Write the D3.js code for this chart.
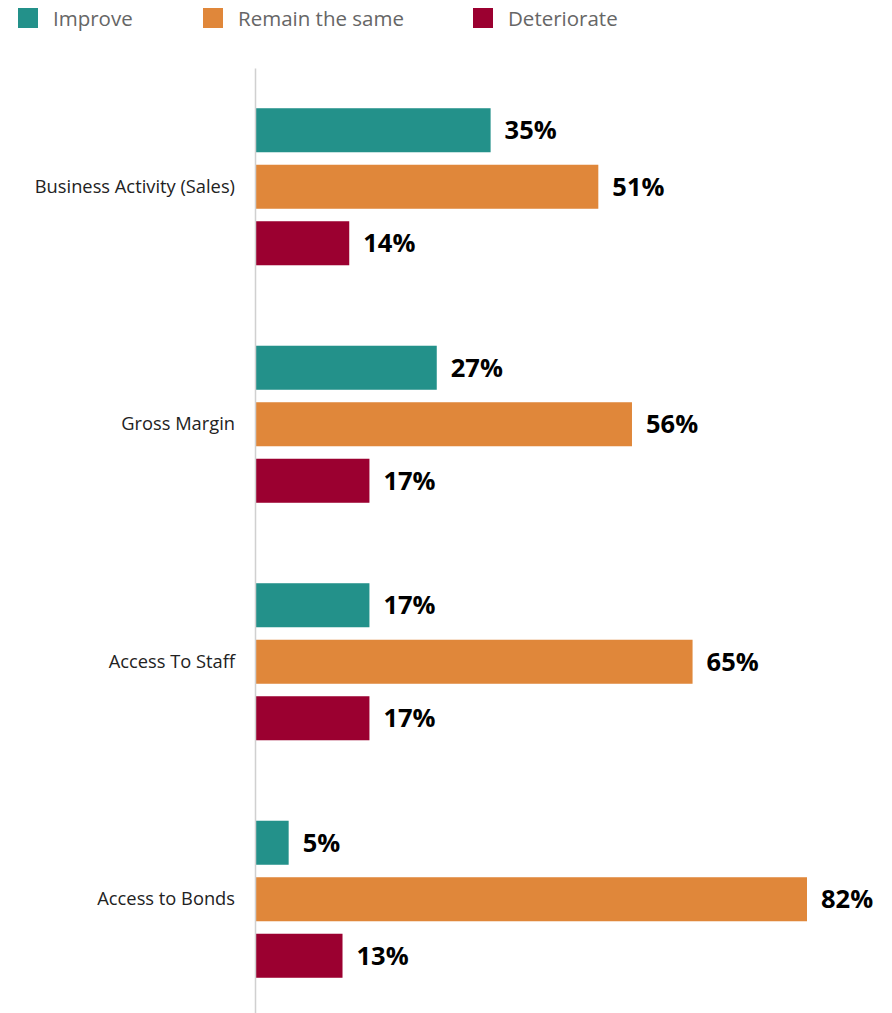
<!DOCTYPE html>
<html>
<head>
<meta charset="utf-8">
<script src="https://cdn.jsdelivr.net/npm/d3@7"></script>
<style>
  html, body { margin: 0; padding: 0; background: #fff; }
  svg { display: block; }
</style>
</head>
<body>
<div id="chart"></div>
<script>
// Survey outlook by business dimension (% of respondents)
const categories = ["Business Activity (Sales)", "Gross Margin", "Access To Staff", "Access to Bonds"];
const seriesNames = ["Improve", "Remain the same", "Deteriorate"];
const improve = [35, 27, 17, 5];
const remainSame = [51, 56, 65, 82];
const deteriorate = [14, 17, 17, 13];
const seriesColors = ["#23918a", "#e0873a", "#9b0030"];

const width = 892, height = 1013;
const svg = d3.select("#chart").append("svg")
  .attr("width", width).attr("height", height);

const rows = categories.map((c, i) => ({
  category: c,
  values: [improve[i], remainSame[i], deteriorate[i]]
}));

const x = d3.scaleLinear().domain([0, 82]).range([255, 807]);
const y0 = d3.scaleBand().domain(categories).range([68, 1018]).padding(0);
const y1 = d3.scaleBand().domain(seriesNames).range([0, y0.bandwidth()])
  .paddingInner(0.221).paddingOuter(0.712);
const color = d3.scaleOrdinal().domain(seriesNames).range(seriesColors);

// Legend
const legendX = [18, 203, 473];
const legend = svg.append("g");
seriesNames.forEach((s, i) => {
  const g = legend.append("g").attr("transform", `translate(${legendX[i]},8)`);
  g.append("rect").attr("width", 20).attr("height", 20).attr("fill", color(s));
  g.append("text").attr("x", 35).attr("y", 18)
    .attr("font-family", "Open Sans, sans-serif").attr("font-size", 20.5)
    .attr("fill", "#666").text(s);
});

// Bars
const groups = svg.append("g").selectAll("g").data(rows).join("g")
  .attr("transform", d => `translate(0,${y0(d.category)})`);

groups.selectAll("rect").data(d => d.values.map((v, i) => ({ key: seriesNames[i], value: v })))
  .join("rect")
  .attr("x", x(0))
  .attr("y", d => y1(d.key))
  .attr("width", d => x(d.value) - x(0))
  .attr("height", y1.bandwidth())
  .attr("fill", d => color(d.key));

groups.selectAll("text.val").data(d => d.values.map((v, i) => ({ key: seriesNames[i], value: v })))
  .join("text").attr("class", "val")
  .attr("x", d => x(d.value) + 14)
  .attr("y", d => y1(d.key) + y1.bandwidth() / 2)
  .attr("dy", "0.36em")
  .attr("font-family", "Open Sans, sans-serif").attr("font-weight", 700)
  .attr("font-size", 25.5).attr("fill", "#000")
  .text(d => d.value + "%");

// Category axis
const axis = d3.axisLeft(y0).tickSize(0).tickPadding(20);
const axisG = svg.append("g").attr("transform", `translate(${x(0)},0)`).call(axis);
axisG.select(".domain").attr("stroke", "#d0d0d0").attr("stroke-width", 1.5);
axisG.selectAll("text")
  .attr("font-family", "Open Sans, sans-serif").attr("font-size", 18.3).attr("fill", "#222");
</script>
</body>
</html>
